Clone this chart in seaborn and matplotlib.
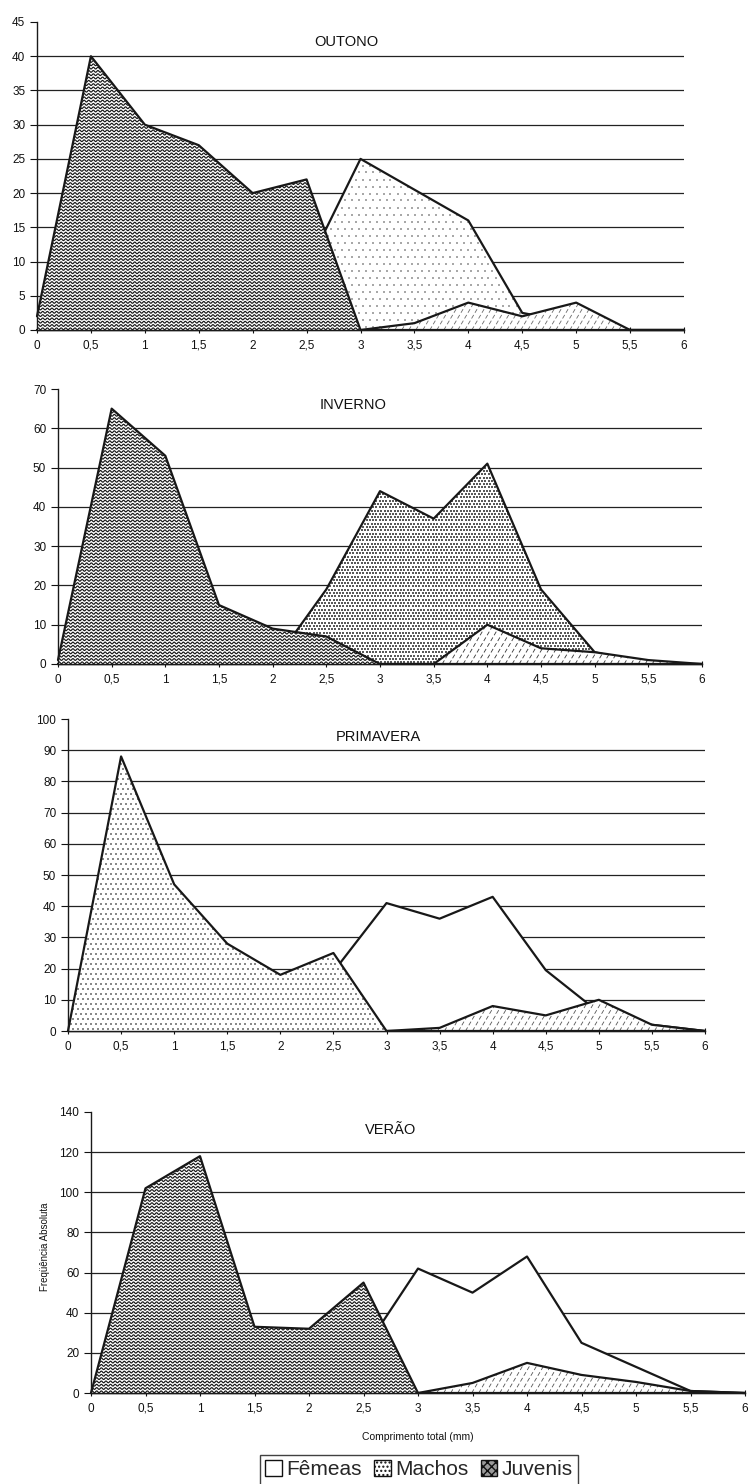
import numpy as np
import matplotlib
matplotlib.use("Agg")
import matplotlib.pyplot as plt
import seaborn as sns
from matplotlib.collections import LineCollection
from matplotlib.patches import Patch

# Length classes (mm) and their tick labels
comprimento = [0, 0.5, 1, 1.5, 2, 2.5, 3, 3.5, 4, 4.5, 5, 5.5, 6]
rotulos_x = ["0", "0,5", "1", "1,5", "2", "2,5", "3", "3,5", "4", "4,5", "5", "5,5", "6"]

# Absolute frequencies per season
outono_femeas = [0, 0, 0, 0, 0, 9, 25, 20.5, 16, 2.5, 1, 0, 0]
outono_machos = [0, 0, 0, 0, 0, 0, 0, 1, 4, 2, 4, 0, 0]
outono_juvenis = [2, 40, 30, 27, 20, 22, 0, 0, 0, 0, 0, 0, 0]

inverno_femeas = [0, 0, 0, 0, 0, 19, 44, 37, 51, 19, 3, 0, 0]
inverno_machos = [0, 0, 0, 0, 0, 0, 0, 0, 10, 4, 3, 1, 0]
inverno_juvenis = [1, 65, 53, 15, 9, 7, 0, 0, 0, 0, 0, 0, 0]

primavera_femeas = [0, 0, 0, 0, 0, 19, 41, 36, 43, 19.5, 6, 2, 0]
primavera_machos = [0, 0, 0, 0, 0, 0, 0, 1, 8, 5, 10, 2, 0]
primavera_juvenis = [0, 88, 47, 28, 18, 25, 0, 0, 0, 0, 0, 0, 0]

verao_femeas = [0, 0, 0, 0, 0, 21, 62, 50, 68, 25, 13, 1, 0]
verao_machos = [0, 0, 0, 0, 0, 0, 0, 5, 15, 9, 5.5, 1, 0]
verao_juvenis = [0, 102, 118, 33, 32, 55, 0, 0, 0, 0, 0, 0, 0]

estacoes = ["OUTONO", "INVERNO", "PRIMAVERA", "VERÃO"]
serie_nomes = ["Fêmeas", "Machos", "Juvenis"]

W, H = 751, 1484
sns.set_style("ticks")
plt.rcParams["font.family"] = ["Liberation Sans", "DejaVu Sans"]

fig = plt.figure(figsize=(W / 100, H / 100), dpi=100)
fig.patch.set_facecolor("white")

INK = "#181818"

# panel layout: (left, right, baseline, top) in pixels, y max, y step, title centre
paineis = [
    dict(dados=(outono_femeas, outono_machos, outono_juvenis), caixa=(37, 684, 330, 22),
         ymax=45, passo=5, titulo=(346, 42),
         texturas=(("sparse", "#a8a8a8"), ("diag", "#6a6a6a"), ("wave", INK))),
    dict(dados=(inverno_femeas, inverno_machos, inverno_juvenis), caixa=(58, 702, 664, 389),
         ymax=70, passo=10, titulo=(353, 405),
         texturas=(("dense", "#5a5a5a"), ("diag", "#333333"), ("wave", INK))),
    dict(dados=(primavera_femeas, primavera_machos, primavera_juvenis), caixa=(68, 705, 1031, 719),
         ymax=100, passo=10, titulo=(378, 737),
         texturas=((None, None), ("diag", "#555555"), ("speck", "#8a8a8a"))),
    dict(dados=(verao_femeas, verao_machos, verao_juvenis), caixa=(91, 745, 1393, 1112),
         ymax=140, passo=20, titulo=(391, 1130),
         texturas=((None, None), ("diag", "#555555"), ("wave", INK))),
]


def grade_pontos(w, h, passo):
    pts = []
    for i, y in enumerate(np.arange(passo / 2, h, passo)):
        off = passo / 2 if i % 2 else 0
        xs = np.arange(off, w, passo)
        pts.append(np.column_stack([xs, np.full_like(xs, y)]))
    return np.vstack(pts)


def aplicar_textura(ax, coll, tipo, cor, w, h, ymax, z):
    path = coll.get_paths()[0]
    if tipo == "wave":
        xs = np.arange(0, w + 1, 0.5)
        segs = []
        for y0 in np.arange(1.2, h, 3.3):
            ys = y0 + 0.9 * np.sin(2 * np.pi * xs / 4.6)
            segs.append(np.column_stack([xs / w, ys / h]))
        lc = LineCollection(segs, colors=cor, linewidths=0.85,
                            transform=ax.transAxes, zorder=z)
        lc.set_clip_path(path, ax.transData)
        ax.add_collection(lc, autolim=False)
    elif tipo == "diag":
        inclin = 1.7
        segs = []
        for c in np.arange(-h / inclin, w, 7):
            segs.append([[c / w, 0], [(c + h / inclin) / w, 1]])
        lc = LineCollection(segs, colors=cor, linewidths=0.6, linestyles=[(0, (5, 3))],
                            transform=ax.transAxes, zorder=z)
        lc.set_clip_path(path, ax.transData)
        ax.add_collection(lc, autolim=False)
    elif tipo in ("dense", "sparse", "speck"):
        passo, tam = {"dense": (3.3, 0.75), "sparse": (7.0, 1.0), "speck": (5.0, 1.4)}[tipo]
        pts = grade_pontos(w, h, passo)
        dados = np.column_stack([pts[:, 0] / w * 6, pts[:, 1] / h * ymax])
        dentro = path.contains_points(dados)
        dados = dados[dentro]
        sc = ax.scatter(dados[:, 0], dados[:, 1], s=tam, c=cor, linewidths=0,
                        marker="s", zorder=z)
        sc.set_clip_path(path, ax.transData)


for nome, p in zip(estacoes, paineis):
    l, r, b, t = p["caixa"]
    ax = fig.add_axes([l / W, 1 - b / H, (r - l) / W, (b - t) / H])
    w_px, h_px = r - l, b - t
    ax.set_facecolor("white")

    for k, (vals, (tipo, cor)) in enumerate(zip(p["dados"], p["texturas"])):
        z = 2 + k
        coll = ax.fill_between(comprimento, 0, vals, facecolor="white",
                               edgecolor="none", zorder=z)
        if tipo is not None:
            aplicar_textura(ax, coll, tipo, cor, w_px, h_px, p["ymax"], z + 0.05)
        sns.lineplot(x=comprimento, y=vals, ax=ax, color=INK, linewidth=1.6,
                     zorder=z + 0.1, clip_on=False, estimator=None)

    ax.set_xlim(0, 6)
    ax.set_ylim(0, p["ymax"])
    ax.set_xticks(comprimento)
    ax.set_xticklabels(rotulos_x)
    yt = np.arange(0, p["ymax"] + p["passo"], p["passo"])
    ax.set_yticks(yt)
    ax.set_yticklabels([str(int(v)) for v in yt])
    ax.grid(axis="y", color="#222222", linewidth=0.9)
    ax.grid(axis="x", visible=False)
    ax.set_axisbelow(True)
    glines = ax.get_ygridlines()
    glines[0].set_visible(False)
    glines[-1].set_visible(False)

    for s in ("top", "right"):
        ax.spines[s].set_visible(False)
    for s in ("left", "bottom"):
        ax.spines[s].set_color("#1a1a1a")
        ax.spines[s].set_linewidth(1.0)
        ax.spines[s].set_zorder(10)
    ax.tick_params(axis="y", direction="out", length=5, width=0.8, pad=3.5,
                   labelsize=8.5, colors="#111111")
    ax.tick_params(axis="x", direction="inout", length=5, width=0.8, pad=4.5,
                   labelsize=8.5, colors="#111111")
    ax.set_xlabel("")
    ax.set_ylabel("")

    tx, ty = p["titulo"]
    fig.text(tx / W, 1 - ty / H, nome, ha="center", va="center",
             fontsize=10.5, color="#111111")

fig.text(45 / W, 1 - 1247 / H, "Freqüência Absoluta", rotation=90,
         ha="center", va="center", fontsize=7, color="#111111")
fig.text(418 / W, 1 - 1437 / H, "Comprimento total (mm)", ha="center",
         va="center", fontsize=7.5, color="#111111")

alcas = [
    Patch(facecolor="white", edgecolor="#111111", label=serie_nomes[0]),
    Patch(facecolor="white", edgecolor="#111111", hatch="....", label=serie_nomes[1]),
    Patch(facecolor="#9a9a9a", edgecolor="#111111", hatch="xxxx", label=serie_nomes[2]),
]
leg = fig.legend(handles=alcas, ncol=3, loc="upper center",
                 bbox_to_anchor=(419 / W, 1 - 1455 / H), frameon=True,
                 fancybox=False, edgecolor="#111111", fontsize=15,
                 handlelength=0.8, handleheight=0.8, handletextpad=0.2,
                 columnspacing=0.6, borderpad=0.25, borderaxespad=0)
leg.get_frame().set_linewidth(1.0)

fig.savefig("out.png", dpi=100, facecolor="white")
